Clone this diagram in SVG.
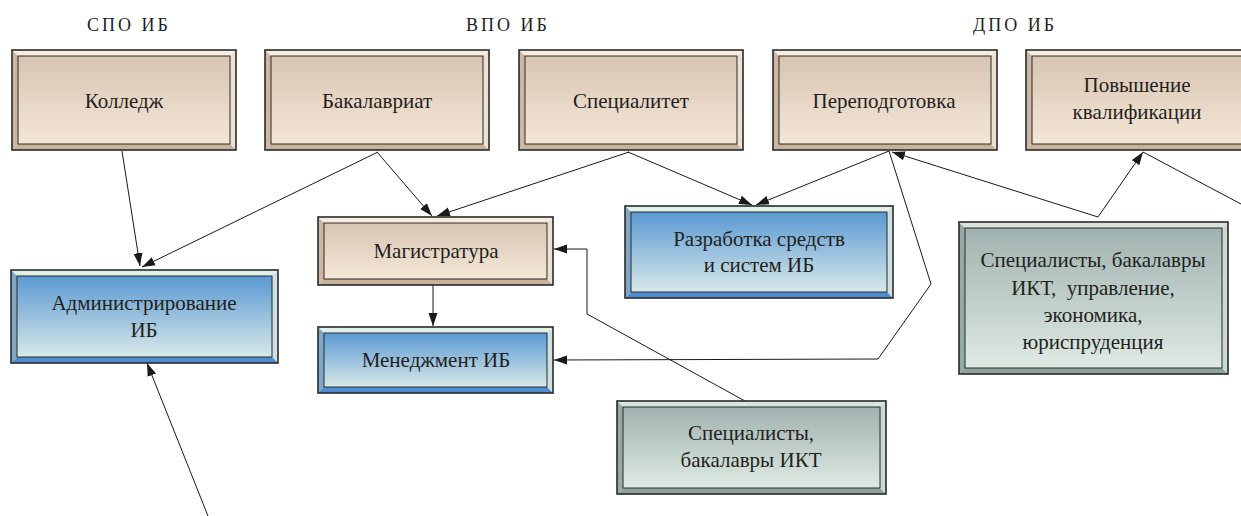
<svg xmlns="http://www.w3.org/2000/svg" width="1241" height="516" viewBox="0 0 1241 516">
<defs>
<linearGradient id="gBeige" x1="0" y1="0" x2="0" y2="1"><stop offset="0" stop-color="#d9c4b2"/><stop offset="1" stop-color="#f4e7d7"/></linearGradient>
<linearGradient id="gBlue" x1="0" y1="0" x2="0" y2="1"><stop offset="0" stop-color="#5a99d3"/><stop offset="1" stop-color="#d8e9e8"/></linearGradient>
<linearGradient id="gGray" x1="0" y1="0" x2="0" y2="1"><stop offset="0" stop-color="#a0b2b0"/><stop offset="1" stop-color="#dfeae3"/></linearGradient>
<marker id="arr" markerUnits="userSpaceOnUse" markerWidth="14" markerHeight="10" refX="13" refY="5" orient="auto"><path d="M0,0.5 L13,5 L0,9.5 Z" fill="#1a1a1a"/></marker>
<style>
.o{stroke:#2a2a2a;stroke-width:1.6;fill:none}
.i{stroke:#2a2a2a;stroke-width:1}
.bt{fill:#f6ede1}.bl{fill:#cdb7a4}.br{fill:#ede1d1}.bb{fill:#c9b19c}
.ut{fill:#dff0e7}.ul{fill:#7ea8c6}.ur{fill:#cde0e2}.ub{fill:#4c8ecf}
.kt{fill:#d7e5dc}.kl{fill:#95a9a5}.kr{fill:#cad9d1}.kb{fill:#8fa39e}
text{font-family:"Liberation Serif","Times New Roman",serif;fill:#231f20;text-anchor:middle}
.t{font-size:21px}
.h{font-size:18px;letter-spacing:3px}
.c{stroke:#1a1a1a;stroke-width:1;fill:none}
</style>
</defs>
<g id="headers">
<text class="h" x="129" y="31">СПО ИБ</text>
<text class="h" x="508" y="31">ВПО ИБ</text>
<text class="h" x="1015" y="31">ДПО ИБ</text>
</g>
<g id="connectors">
<path class="c" d="M122,151 L140,266" marker-end="url(#arr)"/>
<path class="c" d="M378,152 L142,267" marker-end="url(#arr)"/>
<path class="c" d="M377,152 L432,216" marker-end="url(#arr)"/>
<path class="c" d="M629,152 L437,216" marker-end="url(#arr)"/>
<path class="c" d="M628,152 L752,205" marker-end="url(#arr)"/>
<path class="c" d="M889,151 L756,205" marker-end="url(#arr)"/>
<path class="c" d="M433,285 L433,326" marker-end="url(#arr)"/>
<path class="c" d="M745,401 L587,314 L587,249 L554,249" marker-end="url(#arr)"/>
<path class="c" d="M889,151 L931,284 L878,359 L554,360" marker-end="url(#arr)"/>
<path class="c" d="M1098,217 L892,152" marker-end="url(#arr)"/>
<path class="c" d="M1098,217 L1143,152" marker-end="url(#arr)"/>
<path class="c" d="M1143,152 L1241,204"/>
<path class="c" d="M208,516 L147,363" marker-end="url(#arr)"/>
</g>
<g id="kolledzh">
<polygon class="bt" points="12,50 236,50 230,56 18,56"/>
<polygon class="bl" points="12,50 18,56 18,144 12,150"/>
<polygon class="br" points="236,50 236,150 230,144 230,56"/>
<polygon class="bb" points="12,150 18,144 230,144 236,150"/>
<rect class="i" x="18" y="56" width="212" height="88" fill="url(#gBeige)"/>
<rect class="o" x="12" y="50" width="224" height="100"/>
<text class="t" x="124" y="108">Колледж</text>
</g>
<g id="bakalavriat">
<polygon class="bt" points="265,50 489,50 483,56 271,56"/>
<polygon class="bl" points="265,50 271,56 271,144 265,150"/>
<polygon class="br" points="489,50 489,150 483,144 483,56"/>
<polygon class="bb" points="265,150 271,144 483,144 489,150"/>
<rect class="i" x="271" y="56" width="212" height="88" fill="url(#gBeige)"/>
<rect class="o" x="265" y="50" width="224" height="100"/>
<text class="t" x="377" y="108">Бакалавриат</text>
</g>
<g id="specialitet">
<polygon class="bt" points="519,50 743,50 737,56 525,56"/>
<polygon class="bl" points="519,50 525,56 525,144 519,150"/>
<polygon class="br" points="743,50 743,150 737,144 737,56"/>
<polygon class="bb" points="519,150 525,144 737,144 743,150"/>
<rect class="i" x="525" y="56" width="212" height="88" fill="url(#gBeige)"/>
<rect class="o" x="519" y="50" width="224" height="100"/>
<text class="t" x="631" y="108">Специалитет</text>
</g>
<g id="perepodgotovka">
<polygon class="bt" points="773,50 997,50 991,56 779,56"/>
<polygon class="bl" points="773,50 779,56 779,144 773,150"/>
<polygon class="br" points="997,50 997,150 991,144 991,56"/>
<polygon class="bb" points="773,150 779,144 991,144 997,150"/>
<rect class="i" x="779" y="56" width="212" height="88" fill="url(#gBeige)"/>
<rect class="o" x="773" y="50" width="224" height="100"/>
<text class="t" x="884" y="108">Переподготовка</text>
</g>
<g id="povyshenie">
<polygon class="bt" points="1026,50 1250,50 1244,56 1032,56"/>
<polygon class="bl" points="1026,50 1032,56 1032,144 1026,150"/>
<polygon class="bb" points="1026,150 1032,144 1244,144 1250,150"/>
<rect class="i" x="1032" y="56" width="212" height="88" fill="url(#gBeige)"/>
<rect class="o" x="1026" y="50" width="224" height="100"/>
<text class="t" x="1137" y="92">Повышение</text>
<text class="t" x="1137" y="119">квалификации</text>
</g>
<g id="administrirovanie">
<polygon class="ut" points="11,270 278,270 272,276 17,276"/>
<polygon class="ul" points="11,270 17,276 17,357 11,363"/>
<polygon class="ur" points="278,270 278,363 272,357 272,276"/>
<polygon class="ub" points="11,363 17,357 272,357 278,363"/>
<rect class="i" x="17" y="276" width="255" height="81" fill="url(#gBlue)"/>
<rect class="o" x="11" y="270" width="267" height="93"/>
<text class="t" x="144" y="310">Администрирование</text>
<text class="t" x="144" y="337">ИБ</text>
</g>
<g id="magistratura">
<polygon class="bt" points="318,217 553,217 547,223 324,223"/>
<polygon class="bl" points="318,217 324,223 324,279 318,285"/>
<polygon class="br" points="553,217 553,285 547,279 547,223"/>
<polygon class="bb" points="318,285 324,279 547,279 553,285"/>
<rect class="i" x="324" y="223" width="223" height="56" fill="url(#gBeige)"/>
<rect class="o" x="318" y="217" width="235" height="68"/>
<text class="t" x="436" y="258">Магистратура</text>
</g>
<g id="menedzhment">
<polygon class="ut" points="318,327 553,327 547,333 324,333"/>
<polygon class="ul" points="318,327 324,333 324,387 318,393"/>
<polygon class="ur" points="553,327 553,393 547,387 547,333"/>
<polygon class="ub" points="318,393 324,387 547,387 553,393"/>
<rect class="i" x="324" y="333" width="223" height="54" fill="url(#gBlue)"/>
<rect class="o" x="318" y="327" width="235" height="66"/>
<text class="t" x="436" y="367">Менеджмент ИБ</text>
</g>
<g id="razrabotka">
<polygon class="ut" points="625,206 893,206 887,212 631,212"/>
<polygon class="ul" points="625,206 631,212 631,292 625,298"/>
<polygon class="ur" points="893,206 893,298 887,292 887,212"/>
<polygon class="ub" points="625,298 631,292 887,292 893,298"/>
<rect class="i" x="631" y="212" width="256" height="80" fill="url(#gBlue)"/>
<rect class="o" x="625" y="206" width="268" height="92"/>
<text class="t" x="759" y="246">Разработка средств</text>
<text class="t" x="759" y="272">и систем ИБ</text>
</g>
<g id="specialisty-ikt-upr">
<polygon class="kt" points="959,222 1228,222 1222,228 965,228"/>
<polygon class="kl" points="959,222 965,228 965,368 959,374"/>
<polygon class="kr" points="1228,222 1228,374 1222,368 1222,228"/>
<polygon class="kb" points="959,374 965,368 1222,368 1228,374"/>
<rect class="i" x="965" y="228" width="257" height="140" fill="url(#gGray)"/>
<rect class="o" x="959" y="222" width="269" height="152"/>
<text class="t" x="1093" y="267">Специалисты, бакалавры</text>
<text class="t" x="1093" y="295" xml:space="preserve">ИКТ,  управление,</text>
<text class="t" x="1093" y="322">экономика,</text>
<text class="t" x="1093" y="349">юриспруденция</text>
</g>
<g id="specialisty-ikt">
<polygon class="kt" points="617,401 886,401 880,407 623,407"/>
<polygon class="kl" points="617,401 623,407 623,488 617,494"/>
<polygon class="kr" points="886,401 886,494 880,488 880,407"/>
<polygon class="kb" points="617,494 623,488 880,488 886,494"/>
<rect class="i" x="623" y="407" width="257" height="81" fill="url(#gGray)"/>
<rect class="o" x="617" y="401" width="269" height="93"/>
<text class="t" x="751" y="440">Специалисты,</text>
<text class="t" x="751" y="467">бакалавры ИКТ</text>
</g>
</svg>
